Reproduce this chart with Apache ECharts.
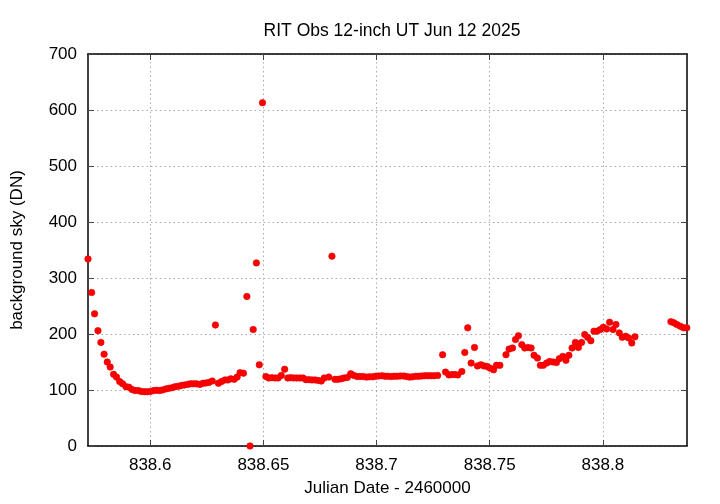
<!DOCTYPE html>
<html>
<head>
<meta charset="utf-8">
<script src="https://cdn.jsdelivr.net/npm/echarts@6/dist/echarts.min.js"></script>
<style>html,body{margin:0;padding:0;background:#fff}#c{width:720px;height:504px}</style>
</head>
<body>
<div id="c"></div>
<script>
var titleText = 'RIT Obs 12-inch UT Jun 12 2025';
var xName = 'Julian Date - 2460000';
var yName = 'background sky (DN)';
var xTicks = [838.6, 838.65, 838.7, 838.75, 838.8];
var xMin = 838.5725, xMax = 838.8372;
var yMin = 0, yMax = 700, yStep = 100;

var jd = [
838.5725,838.5741,838.5754,838.5769,838.5782,838.5796,838.5810,838.5823,838.5838,838.5851,
838.5865,838.5878,838.5893,838.5906,838.5919,838.5932,838.5947,838.5960,838.5974,838.5987,
838.6001,838.6015,838.6028,838.6041,838.6054,838.6069,838.6083,838.6096,838.6110,838.6124,
838.6137,838.6151,838.6165,838.6178,838.6191,838.6204,838.6219,838.6233,838.6246,838.6259,
838.6274,838.6288,838.6301,838.6315,838.6330,838.6343,838.6356,838.6371,838.6384,838.6397,
838.6412,838.6427,838.6441,838.6455,838.6469,838.6482,838.6496,838.6511,838.6524,838.6537,
838.6552,838.6565,838.6579,838.6594,838.6608,838.6621,838.6634,838.6647,838.6661,838.6675,
838.6688,838.6702,838.6715,838.6729,838.6743,838.6756,838.6769,838.6789,838.6803,838.6816,
838.6830,838.6844,838.6857,838.6871,838.6886,838.6900,838.6914,838.6927,838.6941,838.6955,
838.6968,838.6983,838.6996,838.7009,838.7024,838.7037,838.7050,838.7064,838.7078,838.7091,
838.7105,838.7120,838.7133,838.7146,838.7159,838.7174,838.7187,838.7200,838.7214,838.7228,
838.7241,838.7255,838.7270,838.7292,838.7305,838.7320,838.7333,838.7346,838.7359,838.7377,
838.7390,838.7403,838.7418,838.7433,838.7446,838.7461,838.7475,838.7489,838.7502,838.7517,
838.7530,838.7545,838.7572,838.7586,838.7601,838.7614,838.7627,838.7642,838.7655,838.7669,
838.7683,838.7696,838.7711,838.7724,838.7737,838.7752,838.7765,838.7780,838.7795,838.7808,
838.7823,838.7837,838.7850,838.7864,838.7879,838.7892,838.7906,838.7920,838.7933,838.7947,
838.7961,838.7974,838.7989,838.8002,838.8017,838.8030,838.8045,838.8058,838.8073,838.8086,
838.8101,838.8114,838.8128,838.8142,838.8301,838.8314,838.8327,838.8342,838.8357,838.8371
];
var sky = [
334,274,236,206,185,164,150,141,128,123,
115,111,106,105,101,99,99,97.5,97,97,
97.5,99,99.5,99,100,102,103,104,106,106.5,
108,109,110,111,111,111,110,112,112.5,113.5,
116,216,112,115,118,118,120,119,123,131,
130,267,0,208,327,145,613,124,121.5,122,
121.5,121.5,126,137,121.5,122,121.5,121.5,121.5,121.5,
118.5,118.5,118,118,117,116,121.5,123,339,119,
119,120,121.5,122.5,129,126,124,124,124,123,
123.5,123.5,124.5,125,125.5,124.5,124.5,124,124.5,124.5,
125,125,124,123,123.5,124.5,124.5,125,125.5,125.5,
125.5,125.5,126,163,132,127,127.5,127.5,127,133,
167,211,148,176,143,145,143,142,139,136,
144,144,163,173,175,190,197,181,175,176,
175,162,157,144,144,148,151,150,149,156,
160,153,162,175,185,176,185,199,194,188,
205,205,208,212,209,221,208,217,202,194,
196,193,184,195,222,220,217,214,211,211
];

var pts = jd.map(function(x, i){ return [x, sky[i]]; });
var font = '"Liberation Sans", Arial, sans-serif';
var gridLineData = xTicks.map(function(v){ return {xAxis: v}; });

var chart = echarts.init(document.getElementById('c'), null, {renderer: 'canvas'});
chart.setOption({
  animation: false,
  backgroundColor: '#fff',
  title: {
    text: titleText, left: 387, top: 17, textAlign: 'center',
    textStyle: {fontFamily: font, fontSize: 17.5, fontWeight: 'normal', color: '#000'}
  },
  grid: {left: 88, right: 33, top: 54, bottom: 58, show: false},
  xAxis: [{
    type: 'value', min: xMin, max: xMax, position: 'bottom',
    name: xName, nameLocation: 'middle', nameGap: 34,
    nameTextStyle: {fontFamily: font, fontSize: 17, color: '#000'},
    axisLine: {show: true, onZero: false, lineStyle: {color: '#000', width: 1.5}},
    axisTick: {show: true, inside: true, length: 6, customValues: xTicks, lineStyle: {color: '#444'}},
    axisLabel: {customValues: xTicks, fontFamily: font, fontSize: 17, color: '#000', margin: 11,
      formatter: function(v){ return String(+v.toFixed(2)); }},
    splitLine: {show: false}
  }, {
    type: 'value', min: xMin, max: xMax, position: 'top',
    axisLine: {show: true, onZero: false, lineStyle: {color: '#000', width: 1.5}},
    axisTick: {show: true, inside: true, length: 6, customValues: xTicks, lineStyle: {color: '#444'}},
    axisLabel: {show: false}, splitLine: {show: false}
  }],
  yAxis: [{
    type: 'value', min: yMin, max: yMax, interval: yStep, position: 'left',
    name: yName, nameLocation: 'middle', nameGap: 62, nameRotate: 90,
    nameTextStyle: {fontFamily: font, fontSize: 17, color: '#000'},
    axisLine: {show: true, onZero: false, lineStyle: {color: '#000', width: 1.5}},
    axisTick: {show: true, inside: true, length: 6, lineStyle: {color: '#444'}},
    axisLabel: {fontFamily: font, fontSize: 17, color: '#000', margin: 11},
    splitLine: {show: true, lineStyle: {color: '#aaa', type: [1.5, 3], width: 1}}
  }, {
    type: 'value', min: yMin, max: yMax, interval: yStep, position: 'right',
    axisLine: {show: true, onZero: false, lineStyle: {color: '#000', width: 1.5}},
    axisTick: {show: true, inside: true, length: 6, lineStyle: {color: '#444'}},
    axisLabel: {show: false}, splitLine: {show: false}
  }],
  series: [{
    type: 'scatter', data: pts, xAxisIndex: 0, yAxisIndex: 0,
    symbol: 'circle', symbolSize: 6.5,
    itemStyle: {color: '#ff0000', borderColor: '#e00000', borderWidth: 0.6, opacity: 1},
    markLine: {
      silent: true, symbol: 'none', label: {show: false},
      lineStyle: {color: '#aaa', type: [1.5, 3], width: 1},
      data: gridLineData, z: 0
    },
    z: 3
  }]
});
</script>
</body>
</html>
